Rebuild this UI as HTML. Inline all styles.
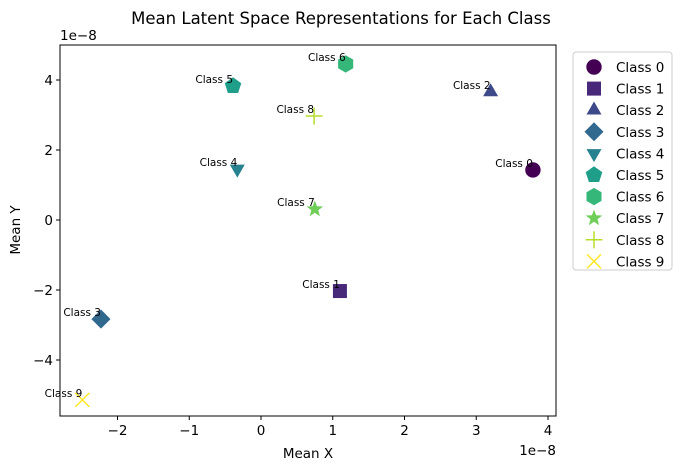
<!DOCTYPE html>
<html><head><meta charset="utf-8"><style>
body{margin:0;background:#fff;font-family:"DejaVu Sans","Liberation Sans",sans-serif}
svg text{font-family:"DejaVu Sans","Liberation Sans",sans-serif}
</style></head><body>
<svg id="chart" width="682" height="470">
<text x="341" y="24" font-size="16.5" text-anchor="middle">Mean Latent Space Representations for Each Class</text>
<rect x="60" y="45" width="496" height="371" fill="none" stroke="#000" stroke-width="1"/>
<g id="xt"></g><g id="yt"></g><g id="pts"></g><g id="legend"></g>
<text x="308" y="458" font-size="13.5" text-anchor="middle">Mean X</text>
<text x="20" y="230" font-size="13.5" text-anchor="middle" transform="rotate(-90 20 230)">Mean Y</text>
<text x="60" y="40" font-size="13.5">1e−8</text>
<text x="556" y="455" font-size="13.5" text-anchor="end">1e−8</text>
</svg>
<script>
const classes=["Class 0","Class 1","Class 2","Class 3","Class 4","Class 5","Class 6","Class 7","Class 8","Class 9"];
const meanX=[3.79,1.10,3.20,-2.23,-0.33,-0.39,1.18,0.75,0.74,-2.49];
const meanY=[1.43,-2.03,3.66,-2.83,1.46,3.83,4.46,0.31,2.97,-5.14];
const colors=["#440154","#482878","#3e4989","#31688e","#26828e","#1f9e89","#35b779","#6ece58","#b5de2b","#fde725"];
const markers=["circle","square","triangle","diamond","tri-down","pentagon","hexagon","star","plus","x"];
const xTicks=[-2,-1,0,1,2,3,4];
const yTicks=[-4,-2,0,2,4];
const NS="http://www.w3.org/2000/svg";
const sx=v=>261+v*71.75, sy=v=>220-v*35;
function mk(tag,at,parent){const e=document.createElementNS(NS,tag);for(const k in at)e.setAttribute(k,at[k]);parent.appendChild(e);return e;}
const xt=document.getElementById('xt'),yt=document.getElementById('yt');
xTicks.forEach(t=>{const x=sx(t);
 const l=mk('line',{x1:x,x2:x,y1:416,y2:420,stroke:'#000'},xt);
 
 
 const tx=mk('text',{x:x,y:435,'font-size':13.5,'text-anchor':'middle'},xt);tx.textContent=(t<0?'−'+(-t):t);
 
 });
yTicks.forEach(t=>{const y=sy(t);
 const l=mk('line',{x1:56,x2:60,y1:y,y2:y,stroke:'#000'},yt);
 
 
 const tx=mk('text',{x:53,y:y+5,'font-size':13.5,'text-anchor':'end'},yt);tx.textContent=(t<0?'−'+(-t):t);
 
 });
function shape(m,x,y,c,parent,s){let e;
 if(m==='circle')e=mk('circle',{cx:x,cy:y,r:s*0.55,fill:c},parent);
 else if(m==='square')e=mk('rect',{x:x-s*0.5,y:y-s*0.5,width:s,height:s,fill:c},parent);
 else if(m==='plus')e=mk('path',{d:`M${x-s*.6},${y}H${x+s*.6}M${x},${y-s*.6}V${y+s*.6}`,stroke:c,'stroke-width':1.5,fill:'none'},parent);
 else if(m==='x')e=mk('path',{d:`M${x-s*.5},${y-s*.5}L${x+s*.5},${y+s*.5}M${x-s*.5},${y+s*.5}L${x+s*.5},${y-s*.5}`,stroke:c,'stroke-width':1.5,fill:'none'},parent);
 else{let pts=[];const r=s*0.62;
  const defs={triangle:[3,-90,1],'tri-down':[3,90,1],diamond:[4,-90,1],pentagon:[5,-90,1],hexagon:[6,-90,1],star:[10,-90,2]}[m];
  for(let i=0;i<defs[0];i++){const a=(defs[1]+i*360/defs[0])*Math.PI/180;const rr=(defs[2]===2&&i%2)?r*0.42:r*(m==='diamond'?1.1:1);pts.push((x+rr*Math.cos(a)).toFixed(1)+','+(y+rr*Math.sin(a)).toFixed(1));}
  e=mk('polygon',{points:pts.join(' '),fill:c},parent);}
 return e;}
const pg=document.getElementById('pts'),lg=document.getElementById('legend');
classes.forEach((n,i)=>{const x=sx(meanX[i]),y=sy(meanY[i]);
 const p=shape(markers[i],x,y,colors[i],pg,14);
 
 
 const t=mk('text',{x:x,y:y-3,'font-size':10.5,'text-anchor':'end'},pg);t.textContent=n;
 
 });
const box=mk('rect',{x:573,y:52,width:99,height:218,fill:'#fff',stroke:'#ccc',rx:3},lg);


classes.forEach((n,i)=>{const y=67+i*21.6;
 const g=mk('g',{},lg);
 
 
 shape(markers[i],594,y,colors[i],g,14);
 const t=mk('text',{x:616,y:y+5,'font-size':13.5},g);t.textContent=n;});
</script>
</body></html>
